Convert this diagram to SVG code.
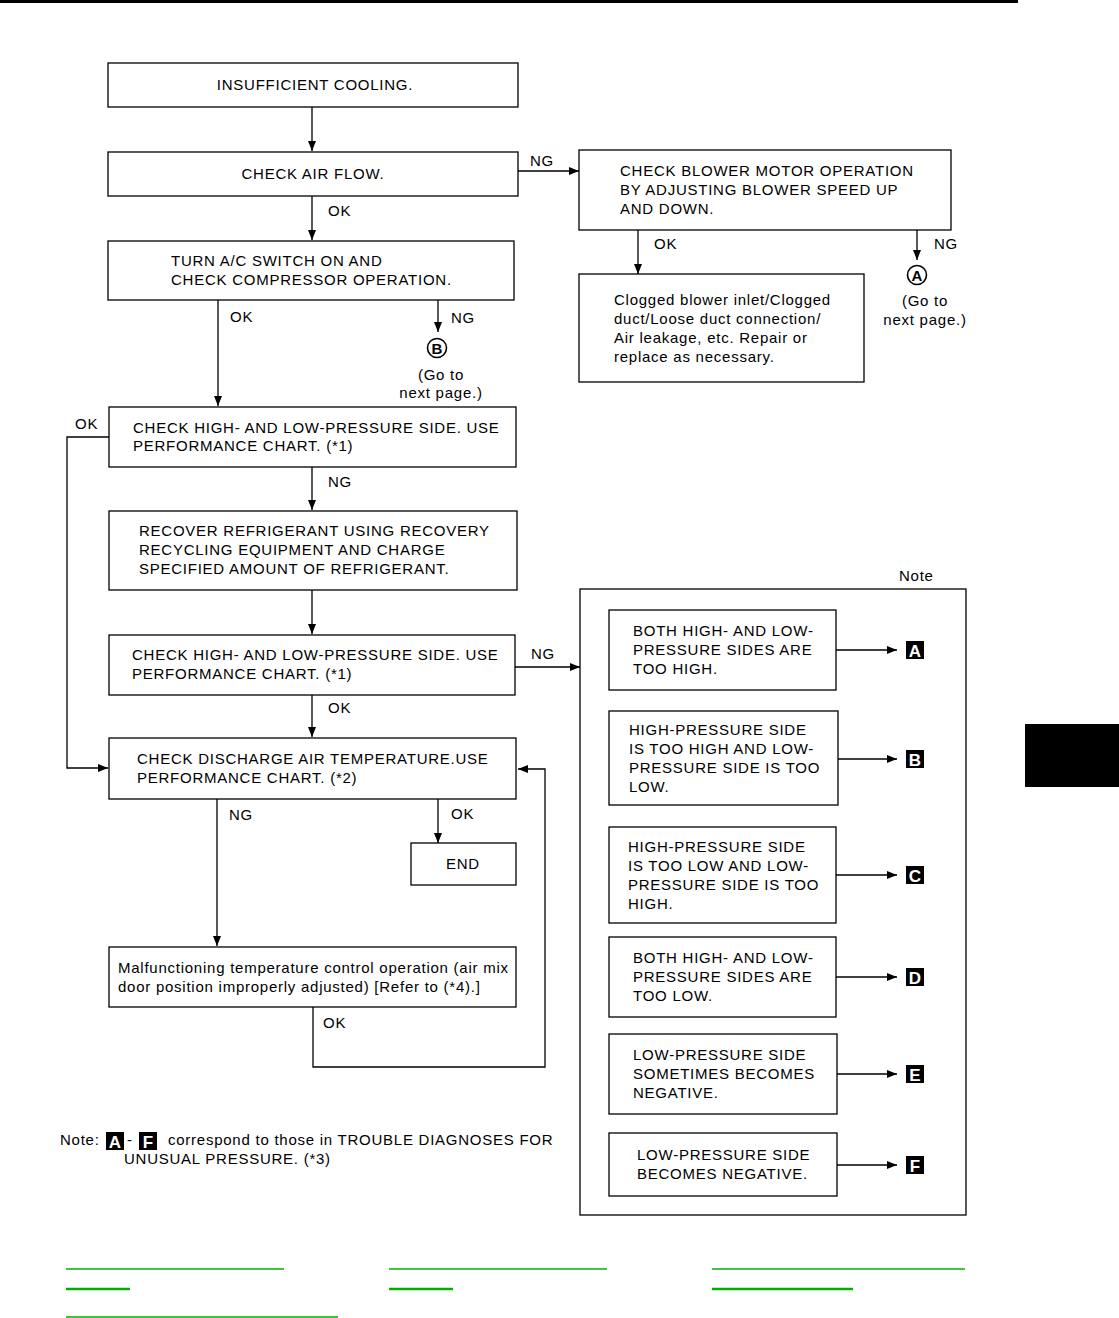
<svg xmlns="http://www.w3.org/2000/svg" width="1119" height="1318" viewBox="0 0 1119 1318">
<style>
text{font-family:"Liberation Sans",Arial,sans-serif;font-size:15px;letter-spacing:0.75px;fill:#000}
.c{text-anchor:middle}
.box{fill:#fff;stroke:#000;stroke-width:1.3}
.panel{fill:none;stroke:#000;stroke-width:1.3}
.ln{fill:none;stroke:#000;stroke-width:1.3}
.bw{font-weight:bold;fill:#fff;font-size:17px;letter-spacing:0;text-anchor:middle}
.cl{font-weight:bold;font-size:15px;letter-spacing:0;text-anchor:middle}
.g1{stroke:#00b000;stroke-width:1.3}
.g2{stroke:#00b000;stroke-width:2.5}
</style>
<defs>
<marker id="ar" viewBox="0 0 10 10" refX="10" refY="5" markerWidth="10" markerHeight="10" markerUnits="userSpaceOnUse" orient="auto">
<path d="M0,1 L10,5 L0,9 Z" fill="#000"/>
</marker>
</defs>
<rect x="0" y="0" width="1018" height="3" fill="#000"/>
<rect x="1025" y="724" width="94" height="63" fill="#000"/>

<g id="n-notepanel">
<rect class="panel" x="580" y="589" width="386" height="626"/>
<text x="899" y="581">Note</text>
</g>

<g id="connectors">
<line class="ln" x1="312" y1="107" x2="312" y2="151" marker-end="url(#ar)"/>
<line class="ln" x1="518" y1="171" x2="579" y2="171" marker-end="url(#ar)"/>
<text x="530" y="166">NG</text>
<line class="ln" x1="638" y1="230" x2="638" y2="274" marker-end="url(#ar)"/>
<text x="654" y="249">OK</text>
<line class="ln" x1="917" y1="230" x2="917" y2="260" marker-end="url(#ar)"/>
<text x="934" y="249">NG</text>
<line class="ln" x1="312" y1="196" x2="312" y2="240" marker-end="url(#ar)"/>
<text x="328" y="216">OK</text>
<line class="ln" x1="218" y1="300" x2="218" y2="406" marker-end="url(#ar)"/>
<text x="230" y="322">OK</text>
<line class="ln" x1="438" y1="300" x2="438" y2="332" marker-end="url(#ar)"/>
<text x="451" y="323">NG</text>
<polyline class="ln" points="109,437 67,437 67,768 108,768" marker-end="url(#ar)"/>
<text x="75" y="429">OK</text>
<line class="ln" x1="312" y1="467" x2="312" y2="510" marker-end="url(#ar)"/>
<text x="328" y="487">NG</text>
<line class="ln" x1="312" y1="590" x2="312" y2="634" marker-end="url(#ar)"/>
<line class="ln" x1="515" y1="667" x2="580" y2="667" marker-end="url(#ar)"/>
<text x="531" y="659">NG</text>
<line class="ln" x1="312" y1="695" x2="312" y2="737" marker-end="url(#ar)"/>
<text x="328" y="713">OK</text>
<line class="ln" x1="217" y1="799" x2="217" y2="946" marker-end="url(#ar)"/>
<text x="229" y="820">NG</text>
<line class="ln" x1="438" y1="799" x2="438" y2="843" marker-end="url(#ar)"/>
<text x="451" y="819">OK</text>
<polyline class="ln" points="313,1007 313,1067 545,1067 545,769 518,769" marker-end="url(#ar)"/>
<text x="323" y="1028">OK</text>
<line class="ln" x1="836" y1="650" x2="897" y2="650" marker-end="url(#ar)"/>
<line class="ln" x1="838" y1="759" x2="897" y2="759" marker-end="url(#ar)"/>
<line class="ln" x1="836" y1="875" x2="897" y2="875" marker-end="url(#ar)"/>
<line class="ln" x1="836" y1="977" x2="897" y2="977" marker-end="url(#ar)"/>
<line class="ln" x1="837" y1="1074" x2="897" y2="1074" marker-end="url(#ar)"/>
<line class="ln" x1="837" y1="1165" x2="897" y2="1165" marker-end="url(#ar)"/>
</g>

<g id="n-insufficient">
<rect class="box" x="108" y="63" width="410" height="44"/>
<text class="c" x="315" y="90">INSUFFICIENT COOLING.</text>
</g>
<g id="n-airflow">
<rect class="box" x="108" y="152" width="410" height="44"/>
<text class="c" x="313" y="179">CHECK AIR FLOW.</text>
</g>
<g id="n-blower">
<rect class="box" x="579" y="150" width="372" height="80"/>
<text x="620" y="176">CHECK BLOWER MOTOR OPERATION</text>
<text x="620" y="195">BY ADJUSTING BLOWER SPEED UP</text>
<text x="620" y="214">AND DOWN.</text>
</g>
<g id="n-gotoA">
<circle cx="917" cy="275" r="9.5" fill="none" stroke="#000" stroke-width="1.6"/>
<text class="cl" x="917" y="280.5">A</text>
<text class="c" x="925" y="306">(Go to</text>
<text class="c" x="925" y="325">next page.)</text>
</g>
<g id="n-clogged">
<rect class="box" x="579" y="274" width="285" height="108"/>
<text x="614" y="305">Clogged blower inlet/Clogged</text>
<text x="614" y="324">duct/Loose duct connection/</text>
<text x="614" y="343">Air leakage, etc. Repair or</text>
<text x="614" y="362">replace as necessary.</text>
</g>
<g id="n-compressor">
<rect class="box" x="108" y="241" width="406" height="59"/>
<text x="171" y="266">TURN A/C SWITCH ON AND</text>
<text x="171" y="285">CHECK COMPRESSOR OPERATION.</text>
</g>
<g id="n-gotoB">
<circle cx="437" cy="348" r="9.5" fill="none" stroke="#000" stroke-width="1.6"/>
<text class="cl" x="437" y="353.5">B</text>
<text class="c" x="441" y="380">(Go to</text>
<text class="c" x="441" y="398">next page.)</text>
</g>
<g id="n-check1">
<rect class="box" x="109" y="407" width="407" height="60"/>
<text x="133" y="433">CHECK HIGH- AND LOW-PRESSURE SIDE. USE</text>
<text x="133" y="451">PERFORMANCE CHART. (*1)</text>
</g>
<g id="n-recover">
<rect class="box" x="109" y="511" width="408" height="79"/>
<text x="139" y="536">RECOVER REFRIGERANT USING RECOVERY</text>
<text x="139" y="555">RECYCLING EQUIPMENT AND CHARGE</text>
<text x="139" y="574">SPECIFIED AMOUNT OF REFRIGERANT.</text>
</g>
<g id="n-check2">
<rect class="box" x="109" y="635" width="406" height="60"/>
<text x="132" y="660">CHECK HIGH- AND LOW-PRESSURE SIDE. USE</text>
<text x="132" y="679">PERFORMANCE CHART. (*1)</text>
</g>
<g id="n-discharge">
<rect class="box" x="109" y="738" width="407" height="61"/>
<text x="137" y="764">CHECK DISCHARGE AIR TEMPERATURE.USE</text>
<text x="137" y="783">PERFORMANCE CHART. (*2)</text>
</g>
<g id="n-end">
<rect class="box" x="411" y="843" width="105" height="42"/>
<text class="c" x="463" y="869">END</text>
</g>
<g id="n-malfunction">
<rect class="box" x="109" y="947" width="407" height="60"/>
<text x="118" y="973">Malfunctioning temperature control operation (air mix</text>
<text x="118" y="992">door position improperly adjusted) [Refer to (*4).]</text>
</g>

<g id="n-noteA">
<rect class="box" x="609" y="610" width="227" height="80"/>
<text x="633" y="636">BOTH HIGH- AND LOW-</text>
<text x="633" y="655">PRESSURE SIDES ARE</text>
<text x="633" y="674">TOO HIGH.</text>
<rect x="906" y="641" width="18" height="18" fill="#000"/>
<text class="bw" x="915" y="657">A</text>
</g>
<g id="n-noteB">
<rect class="box" x="609" y="711" width="229" height="94"/>
<text x="629" y="735">HIGH-PRESSURE SIDE</text>
<text x="629" y="754">IS TOO HIGH AND LOW-</text>
<text x="629" y="773">PRESSURE SIDE IS TOO</text>
<text x="629" y="792">LOW.</text>
<rect x="906" y="750" width="18" height="18" fill="#000"/>
<text class="bw" x="915" y="766">B</text>
</g>
<g id="n-noteC">
<rect class="box" x="609" y="827" width="227" height="96"/>
<text x="628" y="852">HIGH-PRESSURE SIDE</text>
<text x="628" y="871">IS TOO LOW AND LOW-</text>
<text x="628" y="890">PRESSURE SIDE IS TOO</text>
<text x="628" y="909">HIGH.</text>
<rect x="906" y="866" width="18" height="18" fill="#000"/>
<text class="bw" x="915" y="882">C</text>
</g>
<g id="n-noteD">
<rect class="box" x="609" y="937" width="227" height="80"/>
<text x="633" y="963">BOTH HIGH- AND LOW-</text>
<text x="633" y="982">PRESSURE SIDES ARE</text>
<text x="633" y="1001">TOO LOW.</text>
<rect x="906" y="968" width="18" height="18" fill="#000"/>
<text class="bw" x="915" y="984">D</text>
</g>
<g id="n-noteE">
<rect class="box" x="609" y="1034" width="228" height="80"/>
<text x="633" y="1060">LOW-PRESSURE SIDE</text>
<text x="633" y="1079">SOMETIMES BECOMES</text>
<text x="633" y="1098">NEGATIVE.</text>
<rect x="906" y="1065" width="18" height="18" fill="#000"/>
<text class="bw" x="915" y="1081">E</text>
</g>
<g id="n-noteF">
<rect class="box" x="609" y="1133" width="228" height="63"/>
<text x="637" y="1160">LOW-PRESSURE SIDE</text>
<text x="637" y="1179">BECOMES NEGATIVE.</text>
<rect x="906" y="1156" width="18" height="18" fill="#000"/>
<text class="bw" x="915" y="1172">F</text>
</g>

<g id="n-footnote">
<text x="60" y="1145">Note:</text>
<rect x="106" y="1132" width="18" height="18" fill="#000"/>
<text class="bw" x="115" y="1148">A</text>
<text x="127" y="1145">-</text>
<rect x="139" y="1132" width="18" height="18" fill="#000"/>
<text class="bw" x="148" y="1148">F</text>
<text x="168" y="1145">correspond to those in TROUBLE DIAGNOSES FOR</text>
<text x="124" y="1164">UNUSUAL PRESSURE. (*3)</text>
</g>

<g id="links">
<line class="g1" x1="66" y1="1269" x2="284" y2="1269"/>
<line class="g2" x1="66" y1="1289" x2="130" y2="1289"/>
<line class="g1" x1="389" y1="1269" x2="607" y2="1269"/>
<line class="g2" x1="389" y1="1289" x2="453" y2="1289"/>
<line class="g1" x1="712" y1="1269" x2="965" y2="1269"/>
<line class="g2" x1="712" y1="1289" x2="853" y2="1289"/>
<line class="g1" x1="66" y1="1317" x2="338" y2="1317"/>
</g>
</svg>
